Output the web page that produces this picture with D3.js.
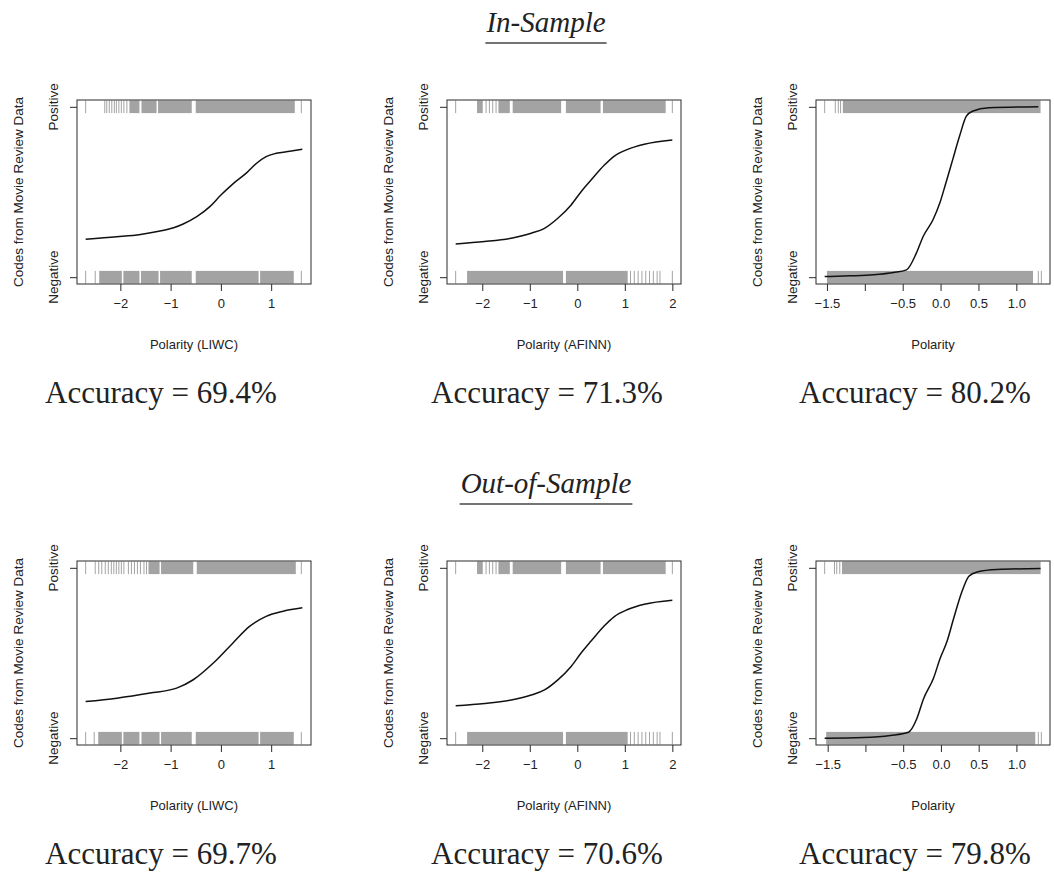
<!DOCTYPE html>
<html>
<head>
<meta charset="utf-8">
<script src="https://cdn.jsdelivr.net/npm/d3@7/dist/d3.min.js"></script>
<style>
  body { margin: 0; background: #fff; }
  svg text { fill: #222; }
</style>
</head>
<body>
<div id="chart-area"></div>
<script>
// ---- data ----
const rowTitles = ['In-Sample', 'Out-of-Sample'];
const xTitles = ['Polarity (LIWC)', 'Polarity (AFINN)', 'Polarity'];
const yTitle = 'Codes from Movie Review Data';
const yTickLabels = ['Negative', 'Positive'];
const accuracies = [['69.4%', '71.3%', '80.2%'], ['69.7%', '70.6%', '79.8%']];

const liwcTicks = [-2, -1, 0, 1];
const afinnTicks = [-2, -1, 0, 1, 2];
const polTicks = [-1.5, -1.0, -0.5, 0.0, 0.5, 1.0];

// fitted curves (x, predicted probability)
const inLiwcX = [-2.69, -2.07, -1.60, -1.21, -0.94, -0.75, -0.48, -0.22, 0, 0.24, 0.51, 0.71, 0.90, 1.10, 1.37, 1.62];
const inLiwcP = [0.222, 0.237, 0.251, 0.271, 0.29, 0.312, 0.355, 0.414, 0.482, 0.548, 0.612, 0.669, 0.708, 0.727, 0.739, 0.751];
const inAfinnX = [-2.56, -1.95, -1.39, -0.97, -0.69, -0.41, -0.13, 0.08, 0.29, 0.57, 0.78, 1.06, 1.41, 2.0];
const inAfinnP = [0.195, 0.209, 0.229, 0.258, 0.287, 0.346, 0.424, 0.502, 0.57, 0.658, 0.711, 0.75, 0.78, 0.805];
const inPolX = [-1.53, -1.19, -0.885, -0.62, -0.45, -0.32, -0.23, -0.10, -0.01, 0.07, 0.16, 0.25, 0.34, 0.42, 0.64, 1.29];
const inPolP = [0.004, 0.008, 0.014, 0.027, 0.043, 0.141, 0.239, 0.337, 0.435, 0.553, 0.69, 0.827, 0.945, 0.974, 0.994, 1.0];

const outLiwcX = [-2.69, -2.07, -1.41, -0.88, -0.55, -0.15, 0.24, 0.57, 0.90, 1.24, 1.62];
const outLiwcP = [0.215, 0.235, 0.265, 0.294, 0.343, 0.441, 0.559, 0.656, 0.715, 0.745, 0.765];
const outAfinnX = [-2.56, -1.95, -1.39, -0.97, -0.69, -0.41, -0.13, 0.08, 0.29, 0.57, 0.78, 1.06, 1.41, 2.0];
const outAfinnP = [0.19, 0.203, 0.224, 0.253, 0.283, 0.342, 0.421, 0.5, 0.57, 0.66, 0.714, 0.755, 0.786, 0.81];
const outPolX = [-1.54, -1.03, -0.67, -0.43, -0.32, -0.23, -0.10, -0.01, 0.08, 0.17, 0.28, 0.37, 0.48, 0.74, 1.32];
const outPolP = [0.0, 0.004, 0.016, 0.035, 0.114, 0.232, 0.35, 0.469, 0.567, 0.705, 0.862, 0.95, 0.976, 0.99, 0.996];

// rug: single observations and densely covered stretches [from, to]
const inLiwcPosTicks = [-2.69, -2.31, -2.27, -2.22, -2.17, -2.12, -2.08, -2.03, -1.98, -1.93, -1.87, 1.60];
const inLiwcPosBands = [[-1.82, -1.62], [-1.58, -1.28], [-1.25, -0.58], [-0.50, 1.47]];
const inLiwcNegTicks = [-2.69, -2.50, 1.60];
const inLiwcNegBands = [[-2.42, -1.97], [-1.94, -1.62], [-1.59, -1.24], [-1.21, -0.58], [-0.50, 0.75], [0.78, 1.45]];

const inAfinnPosTicks = [-2.56, -1.92, -1.85, -1.78, -1.71, 2.0];
const inAfinnPosBands = [[-2.11, -1.99], [-1.66, -1.42], [-1.36, -0.34], [-0.24, 0.49], [0.54, 1.86]];
const inAfinnNegTicks = [-2.56, 1.12, 1.2, 1.28, 1.36, 1.44, 1.52, 1.6, 1.68, 1.74, 2.0];
const inAfinnNegBands = [[-2.32, -0.30], [-0.24, 1.06]];

const inPolPosTicks = [-1.53, -1.39, -1.35, -1.32];
const inPolPosBands = [[-1.29, 1.32]];
const inPolNegTicks = [1.29, 1.33];
const inPolNegBands = [[-1.50, 1.22]];

const outLiwcPosTicks = [-2.69, -2.50, -2.43, -2.37, -2.30, -2.24, -2.18, -2.13, -2.08, -2.03, -1.98, -1.93, -1.84, -1.78, -1.72, -1.66, -1.60, -1.53, -1.48, 1.60];
const outLiwcPosBands = [[-1.44, -1.22], [-1.19, -0.55], [-0.48, 1.49]];
const outLiwcNegTicks = [-2.69, -2.52, 1.60];
const outLiwcNegBands = [[-2.44, -1.97], [-1.94, -1.62], [-1.58, -1.22], [-1.19, -0.58], [-0.50, 0.75], [0.78, 1.45]];

const outAfinnPosTicks = [-2.56, -1.92, -1.85, -1.78, -1.71, 2.0];
const outAfinnPosBands = [[-2.11, -1.99], [-1.66, -1.42], [-1.36, -0.34], [-0.24, 0.49], [0.54, 1.86]];
const outAfinnNegTicks = [-2.56, 1.12, 1.2, 1.28, 1.36, 1.44, 1.52, 1.6, 1.68, 1.74, 2.0];
const outAfinnNegBands = [[-2.32, -0.30], [-0.24, 1.06]];

const outPolPosTicks = [-1.54, -1.41, -1.38, -1.34];
const outPolPosBands = [[-1.31, 1.32]];
const outPolNegTicks = [1.29, 1.33];
const outPolNegBands = [[-1.52, 1.25]];

// ---- layout ----
const W = 1054, H = 875;
const colLeft = [77, 447, 816];
const rowTop = [100, 561];
const boxW = 234, boxH = 184;
const accX = [161, 547, 915];
const titleX = 546;
const rugHalf = 6.3;

const svg = d3.select('#chart-area').append('svg')
    .attr('width', W)
    .attr('height', H);

const panels = [
  [
    {x: inLiwcX, p: inLiwcP, pt: inLiwcPosTicks, pb: inLiwcPosBands, nt: inLiwcNegTicks, nb: inLiwcNegBands, ticks: liwcTicks},
    {x: inAfinnX, p: inAfinnP, pt: inAfinnPosTicks, pb: inAfinnPosBands, nt: inAfinnNegTicks, nb: inAfinnNegBands, ticks: afinnTicks},
    {x: inPolX, p: inPolP, pt: inPolPosTicks, pb: inPolPosBands, nt: inPolNegTicks, nb: inPolNegBands, ticks: polTicks}
  ],
  [
    {x: outLiwcX, p: outLiwcP, pt: outLiwcPosTicks, pb: outLiwcPosBands, nt: outLiwcNegTicks, nb: outLiwcNegBands, ticks: liwcTicks},
    {x: outAfinnX, p: outAfinnP, pt: outAfinnPosTicks, pb: outAfinnPosBands, nt: outAfinnNegTicks, nb: outAfinnNegBands, ticks: afinnTicks},
    {x: outPolX, p: outPolP, pt: outPolPosTicks, pb: outPolPosBands, nt: outPolNegTicks, nb: outPolNegBands, ticks: polTicks}
  ]
];

const rugColor = '#a3a3a3';
const ink = '#2a2a2a';

panels.forEach((row, r) => {
  // row title, italic and underlined
  const tt = svg.append('text')
      .attr('x', titleX)
      .attr('y', rowTop[r] - 68)
      .attr('text-anchor', 'middle')
      .attr('font-family', '"Liberation Serif", "DejaVu Serif", serif')
      .attr('font-style', 'italic')
      .attr('font-size', '29px')
      .text(rowTitles[r]);
  const tw = tt.node().getComputedTextLength();
  svg.append('line')
      .attr('x1', titleX - tw / 2 - 1).attr('x2', titleX + tw / 2 + 1)
      .attr('y1', rowTop[r] - 57).attr('y2', rowTop[r] - 57)
      .attr('stroke', '#444').attr('stroke-width', 1.5);

  row.forEach((d, c) => {
    const g = svg.append('g').attr('transform', 'translate(' + colLeft[c] + ',' + rowTop[r] + ')');

    // R style: data range widened by 4% on each side
    const allX = d.x.concat(d.pt, d.nt, d.pb.flat(), d.nb.flat());
    const [lo, hi] = d3.extent(allX);
    const pad = (hi - lo) * 0.04;
    const x = d3.scaleLinear().domain([lo - pad, hi + pad]).range([0, boxW]);
    const y = d3.scaleLinear().domain([-0.04, 1.04]).range([boxH, 0]);

    // rugs
    [[1, d.pt, d.pb], [0, d.nt, d.nb]].forEach(([lvl, ticks, bands]) => {
      g.selectAll(null).data(bands).enter().append('rect')
          .attr('x', b => x(b[0]))
          .attr('width', b => x(b[1]) - x(b[0]))
          .attr('y', y(lvl) - rugHalf)
          .attr('height', rugHalf * 2)
          .attr('fill', rugColor);
      g.selectAll(null).data(ticks).enter().append('line')
          .attr('x1', v => x(v)).attr('x2', v => x(v))
          .attr('y1', y(lvl) - rugHalf).attr('y2', y(lvl) + rugHalf)
          .attr('stroke', rugColor).attr('stroke-width', 1);
    });

    // fitted curve
    const line = d3.line()
        .x((v, i) => x(v))
        .y((v, i) => y(d.p[i]))
        .curve(d3.curveMonotoneX);
    g.append('path')
        .attr('d', line(d.x))
        .attr('fill', 'none')
        .attr('stroke', '#111')
        .attr('stroke-width', 1.5);

    // box
    g.append('rect')
        .attr('x', 0).attr('y', 0)
        .attr('width', boxW).attr('height', boxH)
        .attr('fill', 'none')
        .attr('stroke', ink).attr('stroke-width', 1);

    // x axis
    const fmt = c === 2 ? d3.format('.1f') : d3.format('d');
    const xAxis = d3.axisBottom(x)
        .tickValues(d.ticks)
        .tickSize(7)
        .tickPadding(8)
        .tickFormat(v => (c === 2 && v === -1) ? '' : fmt(v));
    const xg = g.append('g')
        .attr('transform', 'translate(0,' + boxH + ')')
        .call(xAxis);
    xg.select('.domain').remove();
    xg.selectAll('line').attr('stroke', ink);
    xg.selectAll('text')
        .attr('font-family', '"Liberation Sans", Arial, sans-serif')
        .attr('font-size', '13px')
        .attr('fill', '#222');

    // y axis (ticks only, labels rotated below)
    const yAxis = d3.axisLeft(y).tickValues([0, 1]).tickSize(7).tickFormat('');
    const yg = g.append('g').call(yAxis);
    yg.select('.domain').remove();
    yg.selectAll('line').attr('stroke', ink);

    [0, 1].forEach(v => {
      g.append('text')
          .attr('transform', 'translate(-24,' + y(v) + ') rotate(-90)')
          .attr('text-anchor', 'middle')
          .attr('dominant-baseline', 'central')
          .attr('font-family', '"Liberation Sans", Arial, sans-serif')
          .attr('font-size', '13.5px')
          .text(yTickLabels[v]);
    });

    g.append('text')
        .attr('transform', 'translate(-59,' + (boxH / 2) + ') rotate(-90)')
        .attr('text-anchor', 'middle')
        .attr('dominant-baseline', 'central')
        .attr('font-family', '"Liberation Sans", Arial, sans-serif')
        .attr('font-size', '13.5px')
        .text(yTitle);

    g.append('text')
        .attr('x', boxW / 2)
        .attr('y', boxH + 60)
        .attr('text-anchor', 'middle')
        .attr('dominant-baseline', 'central')
        .attr('font-family', '"Liberation Sans", Arial, sans-serif')
        .attr('font-size', '13px')
        .text(xTitles[c]);

    svg.append('text')
        .attr('x', accX[c])
        .attr('y', rowTop[r] + 303)
        .attr('text-anchor', 'middle')
        .attr('font-family', '"Liberation Serif", "DejaVu Serif", serif')
        .attr('font-size', '31px')
        .text('Accuracy = ' + accuracies[r][c]);
  });
});
</script>
</body>
</html>
